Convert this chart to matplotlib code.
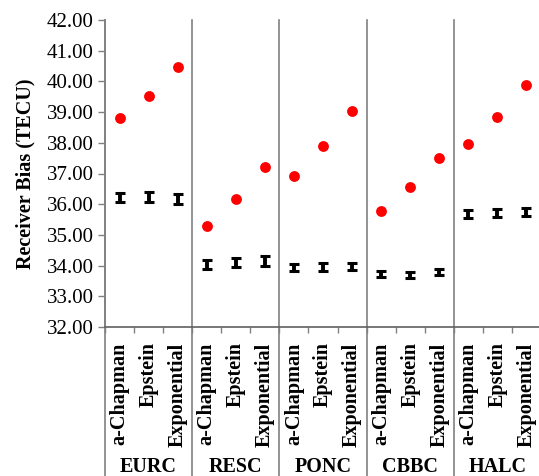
import matplotlib
matplotlib.use("Agg")
import matplotlib.pyplot as plt
import numpy as np

# =========================================================
# DATA
# =========================================================

stations = ["EURC", "RESC", "PONC", "CBBC", "HALC"]
models = ["a-Chapman", "Epstein", "Exponential"]

# red dots (one per model, station by station)
red_values = [
    38.81, 39.53, 40.46,   # EURC
    35.30, 36.17, 37.22,   # RESC
    36.92, 37.88, 39.04,   # PONC
    35.79, 36.56, 37.52,   # CBBC
    37.97, 38.84, 39.89,   # HALC
]

# black error bars (centre and half range)
bar_values = [
    36.22, 36.24, 36.18,
    34.04, 34.09, 34.15,
    33.93, 33.96, 33.98,
    33.74, 33.70, 33.80,
    35.68, 35.71, 35.76,
]
bar_errors = [
    0.16, 0.16, 0.16,
    0.15, 0.15, 0.15,
    0.12, 0.12, 0.12,
    0.10, 0.10, 0.10,
    0.13, 0.13, 0.13,
]

y_ticks = np.arange(32, 43, 1)

# =========================================================
# FIGURE
# =========================================================

plt.rcParams["font.family"] = ["Liberation Serif", "DejaVu Serif"]

fig = plt.figure(figsize=(5.39, 4.76), dpi=100)

# plot area: left axis at x=105 px, top at y=20 px, bottom at y=327 px
ax = fig.add_axes([105 / 539, 1 - 327 / 476, 436 / 539, 307 / 476])

n = len(stations) * len(models)
x = np.arange(n) + 0.5

ax.errorbar(
    x, bar_values, yerr=bar_errors,
    fmt="none", ecolor="black",
    elinewidth=2.8, capsize=3.6, capthick=2.2, zorder=3
)

ax.plot(
    x, red_values, "o",
    color="#ff0000", markersize=7.8, markeredgewidth=0, zorder=4
)

# =========================================================
# AXES
# =========================================================

ax.set_xlim(0, n)
ax.set_ylim(32, 42)

ax.set_yticks(y_ticks)
ax.set_yticklabels([f"{v:.2f}" for v in y_ticks], fontsize=15)
ax.tick_params(axis="y", direction="out", length=5, width=1,
               color="#808080", pad=3)

ax.set_xticks(x)
ax.set_xticklabels(models * len(stations), rotation=90,
                   fontsize=14.5, fontweight="bold")
ax.tick_params(axis="x", which="major", length=0, pad=11)
ax.set_xticks(np.arange(0, n + 1), minor=True)
ax.tick_params(axis="x", which="minor", direction="out", length=4,
               width=1, color="#808080")

for side in ["top", "right"]:
    ax.spines[side].set_visible(False)
ax.spines["left"].set_color("#808080")
ax.spines["bottom"].set_color("#606060")
ax.spines["left"].set_linewidth(1.2)
ax.spines["bottom"].set_linewidth(1.2)

ax.set_ylabel("Receiver Bias (TECU)", fontsize=14.5, fontweight="bold",
              labelpad=8)

# =========================================================
# GROUP SEPARATORS AND STATION LABELS
# =========================================================

trans = ax.get_xaxis_transform()

for g in range(len(stations) + 1):
    ax.plot([g * 3, g * 3], [-0.6, 1.0], transform=trans,
            color="#808080", linewidth=1.2, clip_on=False, zorder=2)

for g, name in enumerate(stations):
    ax.text(g * 3 + 1.5, -0.455, name, transform=trans,
            ha="center", va="center", fontsize=14.5, fontweight="bold")

fig.savefig("out.png", dpi=100)
